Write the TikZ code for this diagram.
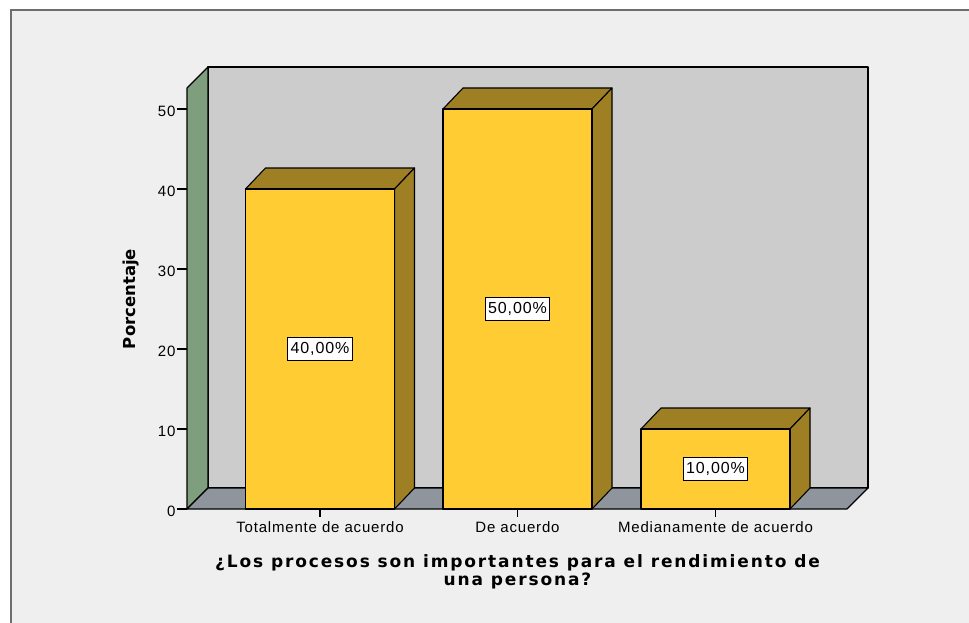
\documentclass[tikz,border=0pt]{standalone}
\usepackage{fontspec}
\usepackage{xcolor}
\usepackage{tikz}
\setmainfont{Liberation Sans}
\newfontfamily\axisfont[LetterSpace=5.5]{Liberation Sans}
\newfontfamily\titlefont[LetterSpace=11]{DejaVu Sans}
\newfontfamily\ylabfont{DejaVu Sans}

\definecolor{panelgray}{RGB}{239,239,239}
\definecolor{framegray}{RGB}{110,110,110}
\definecolor{backwall}{RGB}{204,204,204}
\definecolor{sidewall}{RGB}{126,158,126}
\definecolor{floorgray}{RGB}{142,149,157}
\definecolor{barfront}{RGB}{255,204,51}
\definecolor{barshade}{RGB}{159,127,36}

\begin{document}
\begin{tikzpicture}[x=1pt,y=-1pt,
    face/.style={draw=black,line width=1.1pt,line join=round},
    valbox/.style={draw=black,fill=white,line width=0.8pt,inner xsep=3pt,inner ysep=0pt,minimum height=23pt,font=\fontsize{16}{16}\axisfont},
    ticklab/.style={anchor=east,inner sep=1pt,yshift=-2pt,font=\fontsize{15}{15}\axisfont},
    catlab/.style={anchor=base,inner sep=0pt,font=\fontsize{15}{15}\axisfont},
    titlelab/.style={anchor=base,inner sep=0pt,font=\fontsize{17}{17}\titlefont\bfseries}]
                    \useasboundingbox (0,0) rectangle (969,623);
                    \fill[white] (0,0) rectangle (969,623);
                    \fill[panelgray] (11,10) rectangle (969,623);
                    \draw[framegray,line width=2pt] (11,623) -- (11,10) -- (969,10);

                    % walls and floor
                    \filldraw[face,fill=backwall] (208,67) rectangle (868,488);
                    \filldraw[face,fill=sidewall] (187,88) -- (208,67) -- (208,488) -- (187,509) -- cycle;
                    \filldraw[face,fill=floorgray] (187,509) -- (208,488) -- (868,488) -- (847,509) -- cycle;

                    % bars
                    \filldraw[face,fill=barshade] (245.5,189) -- (265.5,168) -- (414.5,168) -- (394.5,189) -- cycle;
                    \filldraw[face,fill=barshade] (394.5,189) -- (414.5,168) -- (414.5,488) -- (394.5,509) -- cycle;
                    \filldraw[face,fill=barfront] (245.5,189) rectangle (394.5,509);

                    \filldraw[face,fill=barshade] (443,109) -- (463,88) -- (612,88) -- (592,109) -- cycle;
                    \filldraw[face,fill=barshade] (592,109) -- (612,88) -- (612,488) -- (592,509) -- cycle;
                    \filldraw[face,fill=barfront] (443,109) rectangle (592,509);

                    \filldraw[face,fill=barshade] (641,429) -- (661,408) -- (810,408) -- (790,429) -- cycle;
                    \filldraw[face,fill=barshade] (790,429) -- (810,408) -- (810,488) -- (790,509) -- cycle;
                    \filldraw[face,fill=barfront] (641,429) rectangle (790,509);

                    \node[valbox] (v40) at (320,349) {40,00\%};
                    \node[valbox] (v50) at (517.5,309) {50,00\%};
                    \node[valbox] (v10) at (715.5,469) {10,00\%};

                    % y axis ticks
                    \draw[shift={(187,509)},line width=1.1pt] (0,0) -- (-10,0) node[ticklab] (y0) {0};
                    \draw[shift={(187,429)},line width=1.1pt] (0,0) -- (-10,0) node[ticklab] (y10) {10};
                    \draw[shift={(187,349)},line width=1.1pt] (0,0) -- (-10,0) node[ticklab] (y20) {20};
                    \draw[shift={(187,269)},line width=1.1pt] (0,0) -- (-10,0) node[ticklab] (y30) {30};
                    \draw[shift={(187,189)},line width=1.1pt] (0,0) -- (-10,0) node[ticklab] (y40) {40};
                    \draw[shift={(187,109)},line width=1.1pt] (0,0) -- (-10,0) node[ticklab] (y50) {50};

                    % x axis ticks
                    \draw[shift={(320,509)},line width=1.1pt] (0,0) -- (0,8);
                    \draw[shift={(517.5,509)},line width=1.1pt] (0,0) -- (0,8);
                    \draw[shift={(715.5,509)},line width=1.1pt] (0,0) -- (0,8);
                    \node[catlab] (cat1) at (320,532.5) {Totalmente de acuerdo};
                    \node[catlab] (cat2) at (517.5,532.5) {De acuerdo};
                    \node[catlab] (cat3) at (715.5,532.5) {Medianamente de acuerdo};

                    \node[rotate=90,inner sep=0pt,font=\fontsize{16.5}{16.5}\ylabfont\bfseries] (ylab) at (130.8,299) {Porcentaje};
                    \node[titlelab] (title) at (517.5,567.3) {¿Los procesos son importantes para el rendimiento de};
                    \node[titlelab] (title2) at (517.5,585) {una persona?};
                \end{tikzpicture}
\end{document}
